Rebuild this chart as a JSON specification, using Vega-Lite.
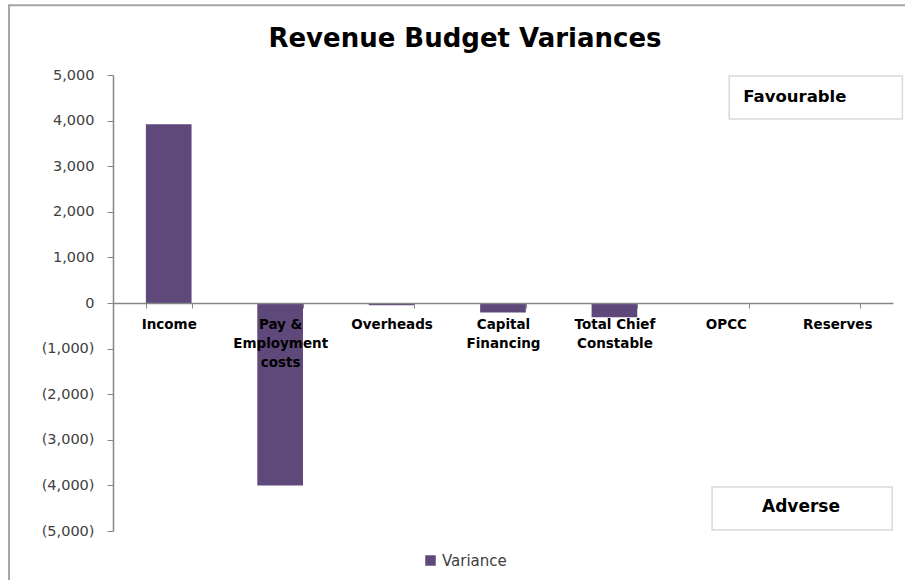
{
  "$schema": "https://vega.github.io/schema/vega-lite/v6.json",
  "width": 780,
  "height": 456,
  "autosize": "none",
  "padding": {"left": 113, "top": 75, "right": 12, "bottom": 49},
  "background": "white",
  "title": {
    "text": "Revenue Budget Variances",
    "font": "DejaVu Sans",
    "fontSize": 26,
    "fontWeight": "bold",
    "color": "#000000",
    "anchor": "middle",
    "dx": -38,
    "offset": -48
  },
  "config": {
    "view": {"stroke": null},
    "axis": {"labelFont": "DejaVu Sans", "titleFont": "DejaVu Sans"},
    "legend": {"labelFont": "DejaVu Sans"}
  },
  "layer": [
    {
      "data": {"values": [{"label": "border"}]},
      "mark": {"type": "rect", "fill": null, "stroke": "#a6a6a6", "strokeWidth": 2, "clip": false},
      "encoding": {
        "x": {"datum": -0.1333, "type": "quantitative", "scale": {"domain": [0, 1]}, "axis": null},
        "x2": {"datum": 1.06},
        "y": {"datum": 6530, "type": "quantitative"},
        "y2": {"datum": -6300}
      }
    },
    {
      "data": {
        "values": [
          {"category": "Income", "series": "Variance", "value": 3920},
          {"category": "Pay & Employment costs", "series": "Variance", "value": -4000},
          {"category": "Overheads", "series": "Variance", "value": -50},
          {"category": "Capital Financing", "series": "Variance", "value": -210},
          {"category": "Total Chief Constable", "series": "Variance", "value": -315},
          {"category": "OPCC", "series": "Variance", "value": 0},
          {"category": "Reserves", "series": "Variance", "value": 0}
        ]
      },
      "mark": {"type": "bar"},
      "encoding": {
        "x": {
          "field": "category",
          "type": "nominal",
          "sort": null,
          "scale": {"paddingInner": 0.59, "paddingOuter": 0.295},
          "axis": {
            "title": null,
            "orient": "bottom",
            "offset": -228,
            "domainColor": "#868686",
            "domainWidth": 1.5,
            "tickColor": "#868686",
            "tickSize": 5,
            "tickBand": "extent",
            "labelAngle": 0,
            "labelFont": "DejaVu Sans",
            "labelFontWeight": "bold",
            "labelFontSize": 13.5,
            "labelColor": "#000000",
            "labelPadding": 9,
            "labelLineHeight": 19,
            "labelExpr": "datum.label == 'Pay & Employment costs' ? ['Pay &', 'Employment', 'costs'] : datum.label == 'Capital Financing' ? ['Capital', 'Financing'] : datum.label == 'Total Chief Constable' ? ['Total Chief', 'Constable'] : datum.label",
            "zindex": 1
          }
        },
        "y": {
          "field": "value",
          "type": "quantitative",
          "scale": {"domain": [-5000, 5000], "nice": false},
          "axis": {
            "title": null,
            "values": [-5000, -4000, -3000, -2000, -1000, 0, 1000, 2000, 3000, 4000, 5000],
            "labelExpr": "datum.value < 0 ? '(' + format(-datum.value, ',') + ')' : format(datum.value, ',')",
            "labelFont": "DejaVu Sans",
            "labelFontSize": 14.5,
            "labelColor": "#404040",
            "labelPadding": 13,
            "tickSize": 6,
            "tickColor": "#868686",
            "domainColor": "#868686",
            "domainWidth": 1.5,
            "gridColor": "#d9d9d9",
            "gridWidth": 1.2
          }
        },
        "color": {
          "field": "series",
          "type": "nominal",
          "scale": {"domain": ["Variance"], "range": ["#5f497a"]},
          "legend": {
            "title": null,
            "orient": "none",
            "legendX": 310,
            "legendY": 478,
            "padding": 0,
            "symbolType": "square",
            "symbolSize": 110,
            "symbolStrokeWidth": 0,
            "labelFontSize": 15,
            "labelColor": "#404040",
            "labelOffset": 4
          }
        }
      }
    },
    {
      "data": {"values": [{"label": "Favourable"}]},
      "mark": {"type": "rect", "fill": "white", "stroke": "#d9d9d9", "strokeWidth": 1.5, "clip": false},
      "encoding": {
        "x": {"datum": 0.79, "type": "quantitative", "scale": {"domain": [0, 1]}, "axis": null},
        "x2": {"datum": 1.012},
        "y": {"datum": 4978, "type": "quantitative"},
        "y2": {"datum": 4035}
      }
    },
    {
      "data": {"values": [{"label": "Favourable"}]},
      "mark": {"type": "text", "font": "DejaVu Sans", "fontWeight": "bold", "fontSize": 16.5, "align": "left", "baseline": "middle", "color": "#000000"},
      "encoding": {
        "x": {"datum": 0.808, "type": "quantitative", "scale": {"domain": [0, 1]}, "axis": null},
        "y": {"datum": 4517, "type": "quantitative"},
        "text": {"field": "label"}
      }
    },
    {
      "data": {"values": [{"label": "Adverse"}]},
      "mark": {"type": "rect", "fill": "white", "stroke": "#d9d9d9", "strokeWidth": 1.5, "clip": false},
      "encoding": {
        "x": {"datum": 0.768, "type": "quantitative", "scale": {"domain": [0, 1]}, "axis": null},
        "x2": {"datum": 0.999},
        "y": {"datum": -4035, "type": "quantitative"},
        "y2": {"datum": -4978}
      }
    },
    {
      "data": {"values": [{"label": "Adverse"}]},
      "mark": {"type": "text", "font": "DejaVu Sans", "fontWeight": "bold", "fontSize": 17, "align": "center", "baseline": "middle", "color": "#000000"},
      "encoding": {
        "x": {"datum": 0.882, "type": "quantitative", "scale": {"domain": [0, 1]}, "axis": null},
        "y": {"datum": -4474, "type": "quantitative"},
        "text": {"field": "label"}
      }
    }
  ],
  "resolve": {"scale": {"x": "independent"}}
}
